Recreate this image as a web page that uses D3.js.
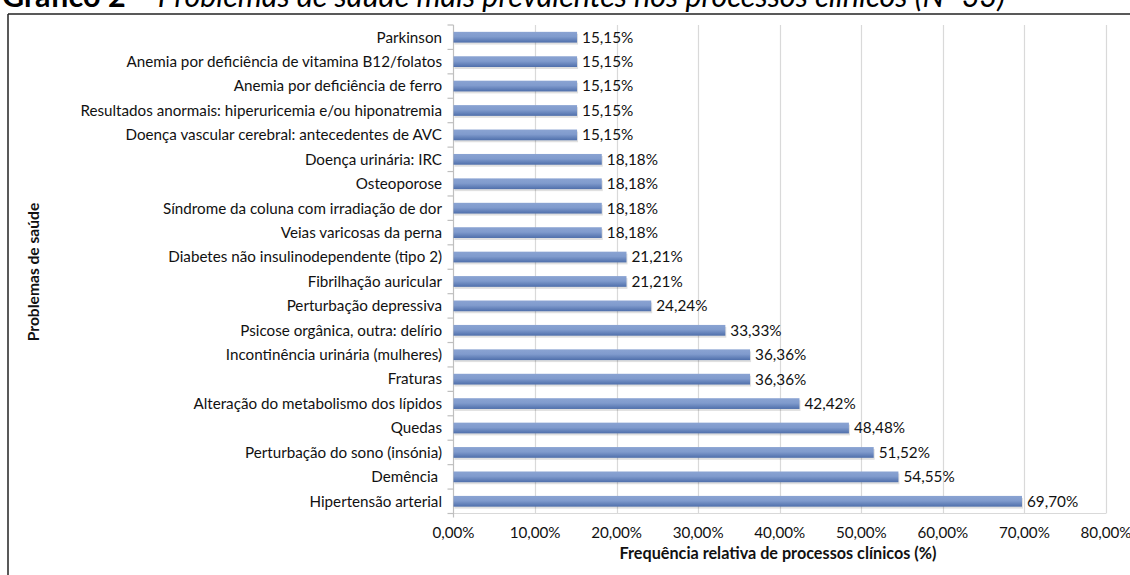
<!DOCTYPE html>
<html>
<head>
<meta charset="utf-8">
<script src="https://cdn.jsdelivr.net/npm/d3@7"></script>
<style>
  body { margin: 0; background: #fff; }
  svg { display: block; font-family: Lato, "Open Sans", sans-serif; }
  text { white-space: pre; }
</style>
</head>
<body>
<svg id="chart" width="1130" height="575"></svg>
<script>
// Categorias (de cima para baixo) e valores (%)
const categories = [
  'Parkinson',
  'Anemia por deficiência de vitamina B12/folatos',
  'Anemia por deficiência de ferro',
  'Resultados anormais: hiperuricemia e/ou hiponatremia',
  'Doença vascular cerebral: antecedentes de AVC',
  'Doença urinária: IRC',
  'Osteoporose',
  'Síndrome da coluna com irradiação de dor',
  'Veias varicosas da perna',
  'Diabetes não insulinodependente (tipo 2)',
  'Fibrilhação auricular',
  'Perturbação depressiva',
  'Psicose orgânica, outra: delírio',
  'Incontinência urinária (mulheres)',
  'Fraturas',
  'Alteração do metabolismo dos lípidos',
  'Quedas',
  'Perturbação do sono (insónia)',
  'Demência ',
  'Hipertensão arterial'
];
const values = [15.15, 15.15, 15.15, 15.15, 15.15, 18.18, 18.18, 18.18, 18.18, 21.21,
  21.21, 24.24, 33.33, 36.36, 36.36, 42.42, 48.48, 51.52, 54.55, 69.70];
const xTicks = [0, 10, 20, 30, 40, 50, 60, 70, 80];

const fmt = v => v.toFixed(2).replace('.', ',') + '%';

const svg = d3.select('#chart');
const data = categories.map((c, i) => ({ name: c, value: values[i] }));

// Título (cortado no topo, como no original)
const title = svg.append('text')
  .attr('x', 2)
  .attr('y', 7)
  .style('font-size', '30.5px')
  .attr('fill', '#000');
title.append('tspan').style('font-weight', 'bold').text('Gráfico 2');
title.append('tspan').style('font-style', 'italic').text(' – Problemas de saúde mais prevalentes nos processos clínicos (N=33)');

// Moldura da área do gráfico
svg.append('line').attr('x1', 8).attr('x2', 1130).attr('y1', 14).attr('y2', 14)
  .attr('stroke', '#222').attr('stroke-width', 1.5);
svg.append('line').attr('x1', 8).attr('x2', 8).attr('y1', 14).attr('y2', 575)
  .attr('stroke', '#222').attr('stroke-width', 1.5);

const x = d3.scaleLinear().domain([0, 80]).range([453.5, 1106]);
const y = d3.scaleBand().domain(categories).range([25, 513.5]).paddingInner(0.56).paddingOuter(0.28);
const y0 = 25, y1 = 513.5;

// Gradiente das barras
const defs = svg.append('defs');
const grad = defs.append('linearGradient').attr('id', 'barGrad')
  .attr('x1', 0).attr('x2', 0).attr('y1', 0).attr('y2', 1);
grad.append('stop').attr('offset', '0%').attr('stop-color', '#8aa3d2');
grad.append('stop').attr('offset', '45%').attr('stop-color', '#809bcd');
grad.append('stop').attr('offset', '100%').attr('stop-color', '#4f6fab');

// Linhas de grelha
svg.append('g')
  .selectAll('line')
  .data(xTicks.slice(1))
  .enter()
  .append('line')
  .attr('x1', d => Math.round(x(d)) + 0.5)
  .attr('x2', d => Math.round(x(d)) + 0.5)
  .attr('y1', y0)
  .attr('y2', y1)
  .attr('stroke', '#d9d9d9')
  .attr('stroke-width', 1.2);

// Eixo x (linha inferior)
svg.append('line').attr('x1', x(0)).attr('x2', x(80)).attr('y1', y1).attr('y2', y1)
  .attr('stroke', '#d9d9d9').attr('stroke-width', 1.2);

// Eixo y com marcas entre categorias
const yAxis = svg.append('g');
yAxis.append('line').attr('x1', x(0)).attr('x2', x(0)).attr('y1', y0).attr('y2', y1 + 4)
  .attr('stroke', '#bfbfbf').attr('stroke-width', 1.2);
yAxis.selectAll('line.tick')
  .data(d3.range(categories.length + 1))
  .enter()
  .append('line')
  .attr('class', 'tick')
  .attr('x1', x(0) - 6)
  .attr('x2', x(0))
  .attr('y1', i => y0 + i * (y1 - y0) / categories.length)
  .attr('y2', i => y0 + i * (y1 - y0) / categories.length)
  .attr('stroke', '#bfbfbf')
  .attr('stroke-width', 1.2);

// Barras (sombra + barra)
svg.append('g').selectAll('rect')
  .data(data)
  .enter()
  .append('rect')
  .attr('x', x(0) + 1)
  .attr('y', d => y(d.name) + 2)
  .attr('width', d => x(d.value) - x(0))
  .attr('height', y.bandwidth())
  .attr('fill', '#000')
  .attr('opacity', 0.12);

svg.append('g').selectAll('rect')
  .data(data)
  .enter()
  .append('rect')
  .attr('x', x(0))
  .attr('y', d => y(d.name))
  .attr('width', d => x(d.value) - x(0))
  .attr('height', y.bandwidth())
  .attr('fill', 'url(#barGrad)');

// Rótulos de valor
svg.append('g').selectAll('text')
  .data(data)
  .enter()
  .append('text')
  .attr('x', d => x(d.value) + 5)
  .attr('y', d => y(d.name) + y.bandwidth() / 2)
  .attr('dy', '0.35em')
  .style('font-size', '15.3px')
  .attr('fill', '#111')
  .text(d => fmt(d.value));

// Rótulos das categorias
svg.append('g').selectAll('text')
  .data(data)
  .enter()
  .append('text')
  .attr('x', 442)
  .attr('y', d => y(d.name) + y.bandwidth() / 2)
  .attr('dy', '0.35em')
  .attr('text-anchor', 'end')
  .style('font-size', '15.2px')
  .attr('fill', '#111')
  .text(d => d.name);

// Rótulos do eixo x
svg.append('g').selectAll('text')
  .data(xTicks)
  .enter()
  .append('text')
  .attr('x', d => x(d))
  .attr('y', 533)
  .attr('dy', '0.35em')
  .attr('text-anchor', 'middle')
  .style('font-size', '15.2px')
  .attr('fill', '#111')
  .text(d => fmt(d));

// Títulos dos eixos
svg.append('text')
  .attr('x', 778)
  .attr('y', 553)
  .attr('dy', '0.35em')
  .attr('text-anchor', 'middle')
  .style('font-size', '16.2px')
  .style('font-weight', 'bold')
  .attr('fill', '#111')
  .text('Frequência relativa de processos clínicos (%)');

svg.append('text')
  .attr('transform', 'translate(34,272) rotate(-90)')
  .attr('dy', '0.35em')
  .attr('text-anchor', 'middle')
  .style('font-size', '15.6px')
  .style('font-weight', 'bold')
  .attr('fill', '#111')
  .text('Problemas de saúde');
</script>
</body>
</html>
